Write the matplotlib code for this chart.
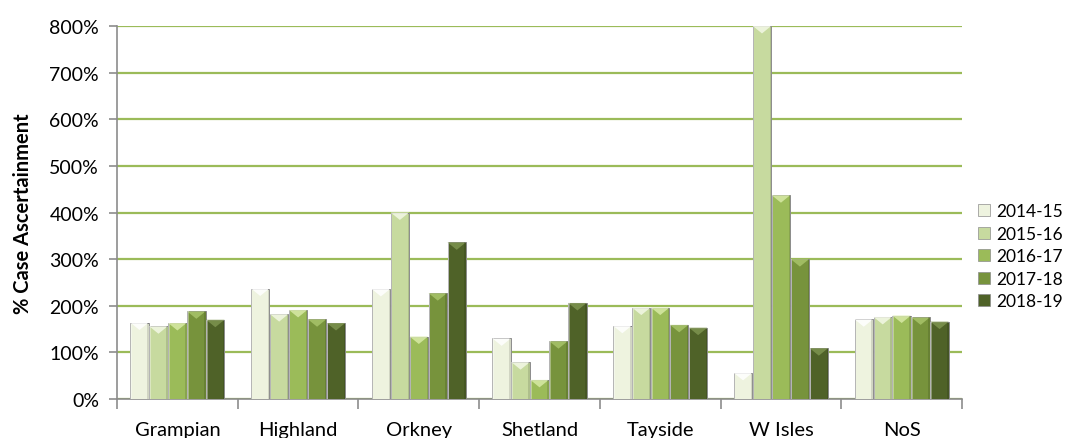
import matplotlib
matplotlib.use("Agg")
import matplotlib.pyplot as plt
import numpy as np
from matplotlib.patches import Polygon, Patch
from matplotlib.ticker import FuncFormatter

plt.rcParams['font.family'] = ['Lato', 'DejaVu Sans']

regions = ["Grampian", "Highland", "Orkney", "Shetland", "Tayside", "W Isles", "NoS"]
years = ["2014-15", "2015-16", "2016-17", "2017-18", "2018-19"]
v_2014_15 = [164, 237, 236, 130, 157, 56, 171]
v_2015_16 = [156, 182, 400, 79, 196, 800, 176]
v_2016_17 = [163, 191, 134, 41, 196, 437, 179]
v_2017_18 = [188, 171, 227, 124, 159, 300, 175]
v_2018_19 = [170, 163, 336, 206, 153, 109, 166]
series = [v_2014_15, v_2015_16, v_2016_17, v_2017_18, v_2018_19]
colors = ["#eef3df", "#c7da9f", "#9bbb59", "#77933c", "#4f6228"]
bevel = ["#ffffff", "#f3f8e6", "#d8eaa6", "#a8c46a", "#7e9450"]

fig = plt.figure(figsize=(10.65, 4.39), dpi=100)
ax = fig.add_axes([0.1099, 0.0888, 0.7934, 0.8497])

x = np.arange(len(regions))
w = 0.152
step = 0.157
for i, (vals, c, bc) in enumerate(zip(series, colors, bevel)):
    pos = x + (i - 2) * step
    bars = ax.bar(pos, vals, width=w, color=c, edgecolor="#8c8c8c", linewidth=0.7,
                  zorder=3, label=years[i])
    for b in bars:
        x0 = b.get_x(); x1 = x0 + b.get_width(); top = b.get_height()
        d = min(16, top * 0.5)
        tri = Polygon([[x0, top], [x1, top], [(x0 + x1) / 2, top - d]],
                      closed=True, facecolor=bc, edgecolor="none", alpha=0.85, zorder=4)
        ax.add_patch(tri)
        ax.add_patch(Polygon([[x0, 0], [x0 + 0.012, 0], [x0 + 0.012, top], [x0, top]],
                             closed=True, facecolor="white", alpha=0.35, edgecolor="none", zorder=4))
        ax.add_patch(Polygon([[x1 - 0.012, 0], [x1, 0], [x1, top], [x1 - 0.012, top]],
                             closed=True, facecolor="black", alpha=0.12, edgecolor="none", zorder=4))

ax.set_xlim(-0.5, len(regions) - 0.5)
ax.set_ylim(0, 800)
ax.set_yticks(np.arange(0, 801, 100))
ax.yaxis.set_major_formatter(FuncFormatter(lambda v, p: f"{int(v)}%"))
ax.grid(axis="y", color="#9bbb59", linewidth=1.6, zorder=0)
ax.set_axisbelow(True)

ax.set_xticks(x)
ax.set_xticklabels(regions, fontsize=14.5)
ax.set_xticks(np.arange(-0.5, len(regions), 1), minor=True)
ax.tick_params(axis="x", which="major", length=0, pad=16)
ax.tick_params(axis="x", which="minor", length=7, color="#8c8c8c", width=1.2)
ax.tick_params(axis="y", length=6, color="#8c8c8c", width=1.2, labelsize=14, pad=7)

for s in ["top", "right"]:
    ax.spines[s].set_visible(False)
for s in ["left", "bottom"]:
    ax.spines[s].set_color("#8c8c8c")
    ax.spines[s].set_linewidth(1.2)

ax.set_ylabel("% Case Ascertainment", fontsize=14.5, fontweight="bold", labelpad=12)

handles = [Patch(facecolor=c, edgecolor="#8c8c8c", linewidth=0.5) for c in colors]
fig.legend(handles, years, loc="center left", bbox_to_anchor=(0.918, 0.414),
           frameon=False, fontsize=12.5, handlelength=0.7, handleheight=0.7,
           handletextpad=0.35, labelspacing=0.38, borderaxespad=0, borderpad=0)

fig.savefig("out.png", dpi=100)
